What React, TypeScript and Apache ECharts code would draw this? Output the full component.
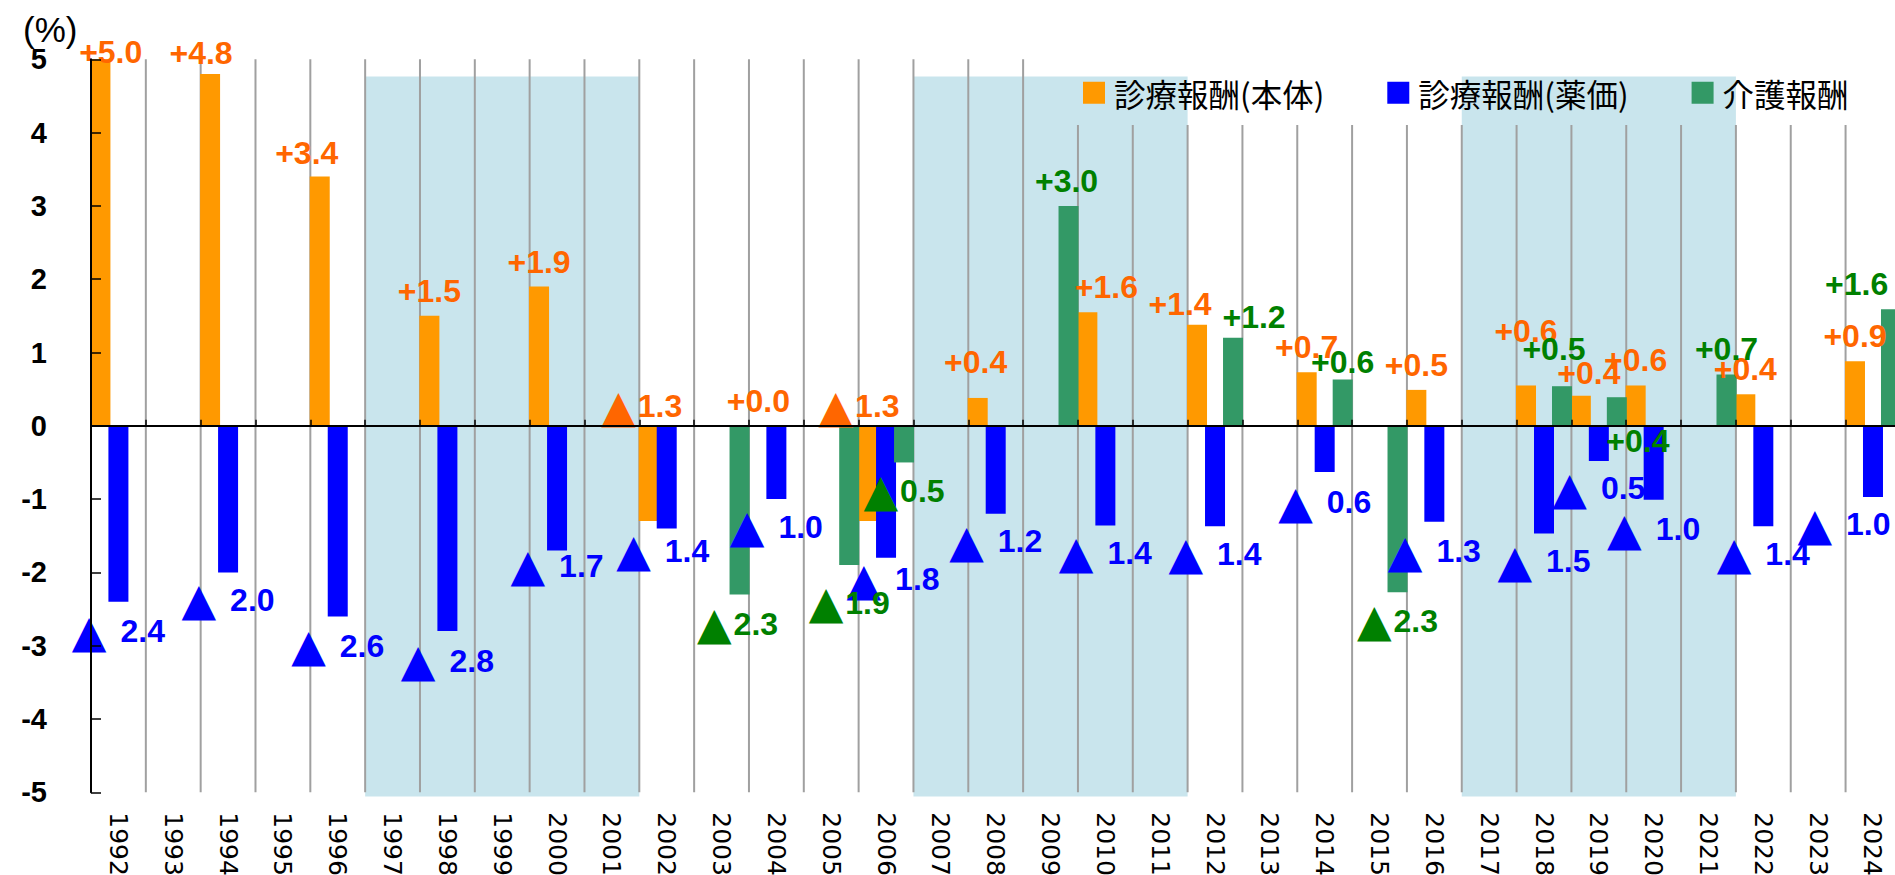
import React, { useEffect, useRef } from "react";
import * as echarts from "echarts";

// ---------- data ----------
const years = [
  "1992", "1993", "1994", "1995", "1996", "1997", "1998", "1999", "2000", "2001", "2002",
  "2003", "2004", "2005", "2006", "2007", "2008", "2009", "2010", "2011", "2012", "2013",
  "2014", "2015", "2016", "2017", "2018", "2019", "2020", "2021", "2022", "2023", "2024",
];

// 診療報酬(本体)
const honTai: (number | null)[] = [
  5.0, null, 4.8, null, 3.4, null, 1.5, null, 1.9, null, -1.3,
  null, 0.0, null, -1.3, null, 0.38, null, 1.55, null, 1.38, null,
  0.73, null, 0.49, null, 0.55, 0.41, 0.55, null, 0.43, null, 0.88,
];

// 診療報酬(薬価)
const yakka: (number | null)[] = [
  -2.4, null, -2.0, null, -2.6, null, -2.8, null, -1.7, null, -1.4,
  null, -1.0, null, -1.8, null, -1.2, null, -1.36, null, -1.37, null,
  -0.63, null, -1.31, null, -1.47, -0.48, -1.01, null, -1.37, null, -0.97,
];

// 介護報酬
const kaigo: (number | null)[] = [
  null, null, null, null, null, null, null, null, null, null, null,
  -2.3, null, -1.9, -0.5, null, null, 3.0, null, null, 1.2, null,
  0.63, -2.27, null, null, 0.54, 0.39, null, 0.7, null, null, 1.59,
];

const seriesNames = ["診療報酬(本体)", "診療報酬(薬価)", "介護報酬"];

// shaded periods (first year, last year)
const shadedPeriods: [string, string][] = [
  ["1997", "2001"],
  ["2007", "2011"],
  ["2017", "2021"],
];

const yMin = -5;
const yMax = 5;
const yInterval = 1;

// ---------- label placement tweaks (pixels) ----------
const orangeLabelOffset: Record<string, [number, number]> = {
  "1992": [10, 18], "1994": [-9, 4], "1996": [-13, 1], "2002": [-7, 0], "2006": [-9, 0],
  "2008": [-2, -11], "2010": [19, 0], "2012": [-17, 4], "2018": [0, -29], "2019": [8, 2],
};
const blueLabelOffset: Record<string, [number, number]> = {
  "1992": [0, 2], "1996": [0, 2], "1998": [0, 2], "2000": [0, -12], "2002": [-4, -5],
  "2006": [7, -6], "2014": [0, 3], "2016": [0, 2], "2020": [0, 2], "2024": [-29, 0],
};
const greenLabelOffset: Record<string, [number, number]> = {
  "2003": [-2, 2], "2005": [0, 10], "2006": [0, 1], "2009": [-2, 0], "2012": [21, 4],
  "2014": [0, 7], "2015": [0, 1], "2018": [-8, -12], "2019": [21, 0], "2024": [-34, 0],
};
const orangeLabelPos: Record<string, string> = { "2002": "top", "2006": "top" };
const greenLabelPos: Record<string, string> = { "2019": "bottom" };

const COLORS = {
  orange: "#FF9900",
  blue: "#0000FF",
  green: "#339966",
  orangeText: "#FF6600",
  blueText: "#0000FF",
  greenText: "#008000",
  shade: "#C9E5ED",
  sep: "#A0A0A0",
};

const NUM_FONT = "'Liberation Sans', Arial, sans-serif";
const CJK_FONT = "'Noto Sans CJK JP', sans-serif";
const LABEL_SIZE = 32;
const TRI_SIZE = 45;

function buildData(
  vals: (number | null)[],
  offsets: Record<string, [number, number]>,
  positions: Record<string, string>
) {
  return years.map((y, i) => {
    const v = vals[i];
    if (v === null) return "-";
    const pos = positions[y] ?? (v >= 0 ? "top" : "bottom");
    let distance = 9;
    if (pos === "top" && v < 0) distance = -3;
    else if (pos === "bottom" && v >= 0) distance = -1;
    else if (pos === "bottom") distance = 5;
    return {
      value: v,
      label: { position: pos, offset: offsets[y] ?? [0, 0], distance },
    };
  });
}

function makeLabel(color: string, triGap: number) {
  return {
    show: true,
    color,
    fontFamily: NUM_FONT,
    fontWeight: "bold",
    fontSize: LABEL_SIZE,
    formatter: (p: any) => {
      const v = Number(p.value);
      if (v >= 0) return "+" + v.toFixed(1);
      return "{tri|▲}{num|" + Math.abs(v).toFixed(1) + "}";
    },
    rich: {
      tri: {
        color,
        fontFamily: "'DejaVu Sans', sans-serif",
        fontSize: TRI_SIZE,
        padding: [0, triGap, 0, 0],
      },
      num: { color, fontFamily: NUM_FONT, fontWeight: "bold", fontSize: LABEL_SIZE },
    },
  };
}

export default function App() {
  const ref = useRef<HTMLDivElement>(null);

  useEffect(() => {
    if (!ref.current) return;
    const chart = echarts.init(ref.current, undefined, { renderer: "svg" });

    const shadeData = shadedPeriods.map(([a, b]) => [years.indexOf(a), years.indexOf(b)]);
    const sepData = years.map((_, i) => [i, 0]).slice(1);

    const option: any = {
      animation: false,
      backgroundColor: "#ffffff",
      title: {
        text: "(%)",
        left: 18,
        top: 7,
        textStyle: { fontFamily: NUM_FONT, fontSize: 35, fontWeight: "normal", color: "#000" },
      },
      legend: {
        data: seriesNames,
        left: 1083,
        top: 77,
        padding: 0,
        itemWidth: 22,
        itemHeight: 22,
        itemGap: 63,
        icon: "rect",
        textStyle: {
          fontFamily: CJK_FONT,
          fontSize: 31.5,
          color: "#000",
          padding: [0, 0, 0, 4],
        },
      },
      grid: {
        left: 91,
        right: -5.4,
        top: 59.3,
        bottom: 82.7,
        containLabel: false,
        outerBoundsMode: "none",
      },
      xAxis: [
        {
          type: "category",
          data: years,
          boundaryGap: true,
          z: 6,
          axisLine: { show: true, onZero: true, lineStyle: { color: "#000", width: 2 } },
          axisTick: { show: true, inside: true, length: 6, interval: 0, lineStyle: { color: "#000", width: 1.5 } },
          axisLabel: { show: false },
          splitLine: { show: false },
        },
        {
          type: "category",
          data: years,
          position: "bottom",
          boundaryGap: true,
          axisLine: { show: false, onZero: false },
          axisTick: { show: false },
          splitLine: { show: false },
          axisLabel: {
            show: true,
            interval: 0,
            rotate: -90,
            margin: 20,
            fontFamily: "'DejaVu Sans', sans-serif",
            fontSize: 25,
            color: "#000",
          },
        },
      ],
      yAxis: {
        type: "value",
        min: yMin,
        max: yMax,
        interval: yInterval,
        z: 6,
        axisLine: { show: true, lineStyle: { color: "#000", width: 2 } },
        axisTick: { show: true, inside: true, length: 10, lineStyle: { color: "#000", width: 1.5 } },
        splitLine: { show: false },
        axisLabel: {
          margin: 44,
          fontFamily: NUM_FONT,
          fontWeight: "bold",
          fontSize: 29,
          color: "#000",
        },
      },
      series: [
        {
          type: "custom",
          silent: true,
          clip: false,
          z: 0,
          xAxisIndex: 0,
          encode: { x: [0, 1] },
          data: shadeData,
          renderItem: (_params: any, api: any) => {
            const s = api.value(0);
            const e = api.value(1);
            const bw = api.size([1, 0])[0];
            const p1 = api.coord([s, 4.765]);
            const p2 = api.coord([e, -5.057]);
            return {
              type: "rect",
              shape: { x: p1[0] - bw / 2, y: p1[1], width: p2[0] - p1[0] + bw, height: p2[1] - p1[1] },
              style: { fill: COLORS.shade },
            };
          },
        },
        {
          type: "custom",
          silent: true,
          clip: false,
          z: 1,
          xAxisIndex: 0,
          encode: { x: 0, y: 1 },
          data: sepData,
          renderItem: (_params: any, api: any) => {
            const i = api.value(0);
            const bw = api.size([1, 0])[0];
            const x = api.coord([i, 0])[0] - bw / 2;
            const yTop = x > 1070 ? 125 : api.coord([i, yMax])[1];
            const yBot = api.coord([i, yMin])[1];
            return {
              type: "line",
              shape: { x1: x, y1: yTop, x2: x, y2: yBot },
              style: { stroke: COLORS.sep, lineWidth: 2 },
            };
          },
        },
        {
          name: seriesNames[0],
          type: "bar",
          xAxisIndex: 0,
          barWidth: 20,
          barGap: "-10%",
          z: 2,
          itemStyle: { color: COLORS.orange },
          label: makeLabel(COLORS.orangeText, 2),
          data: buildData(honTai, orangeLabelOffset, orangeLabelPos),
        },
        {
          name: seriesNames[1],
          type: "bar",
          xAxisIndex: 0,
          barWidth: 20,
          barGap: "-10%",
          z: 2,
          itemStyle: { color: COLORS.blue },
          label: makeLabel(COLORS.blueText, 14),
          data: buildData(yakka, blueLabelOffset, {}),
        },
        {
          name: seriesNames[2],
          type: "bar",
          xAxisIndex: 0,
          barWidth: 20,
          barGap: "-10%",
          z: 2,
          itemStyle: { color: COLORS.green },
          label: makeLabel(COLORS.greenText, 2),
          data: buildData(kaigo, greenLabelOffset, greenLabelPos),
        },
      ],
    };

    chart.setOption(option);
    return () => chart.dispose();
  }, []);

  return (
    <div
      ref={ref}
      style={{ position: "absolute", left: 0, top: 0, width: 1895, height: 875, overflow: "hidden" }}
    />
  );
}
